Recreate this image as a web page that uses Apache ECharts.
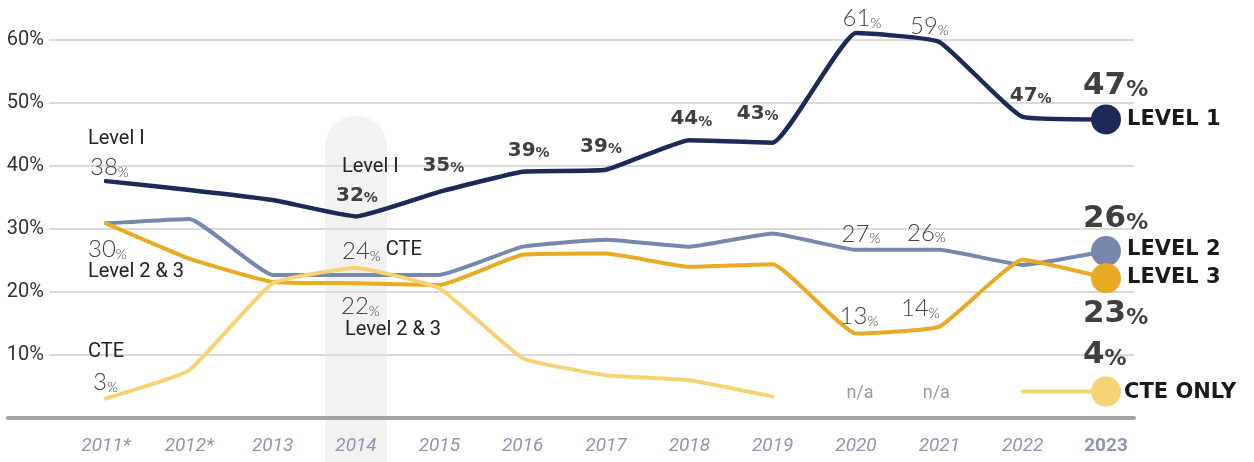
<!DOCTYPE html>
<html>
<head>
<meta charset="utf-8">
<script src="https://cdn.jsdelivr.net/npm/echarts@6/dist/echarts.min.js"></script>
<style>
    html, body { margin: 0; padding: 0; background: #fff; }
    #chart { width: 1254px; height: 462px; }
</style>
</head>
<body>
<div id="chart"></div>
<script>
// categories and values
var years = ['2011*', '2012*', '2013', '2014', '2015', '2016', '2017', '2018', '2019', '2020', '2021', '2022', '2023'];
var level1 = [37.6, 36.2, 34.6, 32.0, 35.9, 39.1, 39.4, 44.1, 43.7, 61.1, 59.7, 47.8, 47.4];
var level2 = [30.9, 31.6, 22.7, 22.7, 22.7, 27.2, 28.3, 27.2, 29.3, 26.7, 26.7, 24.3, 26.5];
var level3 = [30.9, 25.3, 21.6, 21.4, 21.1, 25.9, 26.1, 24.0, 24.4, 13.4, 14.5, 25.1, 22.2];
var cteOnly = [3.1, 7.6, 21.4, 23.8, 20.6, 9.5, 6.8, 6.0, 3.4, null, null, 4.2, 4.2];

// printed labels
var level1Labels = ['38', null, null, '32', '35', '39', '39', '44', '43', '61', '59', '47', '47'];
var level2Labels = ['30', null, null, null, null, null, null, null, null, '27', '26', null, '26'];
var level3Labels = [null, null, null, '22', null, null, null, null, null, '13', '14', null, '23'];
var cteLabels = ['3', null, null, '24', null, null, null, null, null, null, null, null, '4'];
var naLabels = [null, null, null, null, null, null, null, null, null, 'n/a', 'n/a', null, null];
var yTicks = [0, 10, 20, 30, 40, 50, 60];

var NAVY = '#1b2a56', SLATE = '#7788ae', ORANGE = '#e9ab24', YELLOW = '#f6d375';
var COND = 'Roboto';

var RICH = {
    name: { fontFamily: COND, fontSize: 20, color: '#222', lineHeight: 24 },
    thin: { fontFamily: 'Lato', fontWeight: 300, fontSize: 24, color: '#444', lineHeight: 26, verticalAlign: 'bottom' },
    thinP: { fontFamily: 'Lato', fontWeight: 300, fontSize: 14, color: '#444', lineHeight: 26, verticalAlign: 'bottom' },
    heavy: { fontFamily: 'DejaVu Sans', fontWeight: 'bold', fontSize: 20, color: '#3f3f3f', lineHeight: 22, verticalAlign: 'bottom' },
    heavyP: { fontFamily: 'DejaVu Sans', fontWeight: 'bold', fontSize: 14, color: '#3f3f3f', lineHeight: 22, verticalAlign: 'bottom' },
    big: { fontFamily: 'DejaVu Sans', fontWeight: 'bold', fontSize: 31, color: '#3f3f3f', lineHeight: 32, verticalAlign: 'bottom' },
    bigP: { fontFamily: 'DejaVu Sans', fontWeight: 'bold', fontSize: 22, color: '#3f3f3f', lineHeight: 32, verticalAlign: 'bottom' },
    lvl: { fontFamily: 'DejaVu Sans', fontWeight: 'bold', fontSize: 21, color: '#1a1a1a', lineHeight: 24 },
    na: { fontFamily: COND, fontSize: 18, color: '#9b9b9b', lineHeight: 24 }
};

function thin(t) { return '{thin|' + t + '}{thinP|%}'; }
function heavy(t) { return '{heavy|' + t + '}{heavyP|%}'; }
function big(t) { return '{big|' + t + '}{bigP|%}'; }

// one text annotation pinned to a data point
function note(i, v, text, dx, dy, align) {
    return {
        coord: [i, v],
        symbol: 'circle',
        symbolSize: 1,
        itemStyle: { color: 'rgba(0,0,0,0)' },
        label: {
            show: true,
            position: 'inside',
            formatter: text,
            align: align || 'left',
            verticalAlign: 'middle',
            offset: [dx, dy],
            rich: RICH
        }
    };
}

var notes1 = [
    note(0, level1[0], '{name|Level I}', -18, -42),
    note(0, level1[0], thin(level1Labels[0]), -16, -15),
    note(3, level1[3], '{name|Level I}', -14, -49),
    note(3, level1[3], heavy(level1Labels[3]), -20, -22),
    note(4, level1[4], heavy(level1Labels[4]), 4, -27, 'center'),
    note(5, level1[5], heavy(level1Labels[5]), 6, -22, 'center'),
    note(6, level1[6], heavy(level1Labels[6]), -5, -24, 'center'),
    note(7, level1[7], heavy(level1Labels[7]), 2, -22, 'center'),
    note(8, level1[8], heavy(level1Labels[8]), -15, -30, 'center'),
    // anchored on the top gridline, the point itself sits just above the axis range
    note(9, yTicks[yTicks.length - 1], thin(level1Labels[9]), 6, -23, 'center'),
    note(10, level1[10], thin(level1Labels[10]), -10, -17, 'center'),
    note(11, level1[11], heavy(level1Labels[11]), 8, -22, 'center'),
    note(12, level1[12], big(level1Labels[12]), -23, -34),
    note(12, level1[12], '{lvl|LEVEL 1}', 21, 0)
];
var notes2 = [
    note(0, level2[0], thin(level2Labels[0]), -18, 25),
    note(0, level2[0], '{name|Level 2 & 3}', -18, 49),
    note(9, level2[9], thin(level2Labels[9]), 5, -17, 'center'),
    note(10, level2[10], thin(level2Labels[10]), -13, -18, 'center'),
    note(12, level2[12], big(level2Labels[12]), -23, -33),
    note(12, level2[12], '{lvl|LEVEL 2}', 21, -2)
];
var notes3 = [
    note(3, level3[3], thin(level3Labels[3]), -15, 22),
    note(3, level3[3], '{name|Level 2 & 3}', -11, 47),
    note(9, level3[9], thin(level3Labels[9]), 3, -18, 'center'),
    note(10, level3[10], thin(level3Labels[10]), -19, -19, 'center'),
    note(12, level3[12], '{lvl|LEVEL 3}', 21, -1),
    note(12, level3[12], big(level3Labels[12]), -23, 35)
];
var notesCte = [
    note(0, cteOnly[0], '{name|CTE}', -18, -46),
    note(0, cteOnly[0], thin(cteLabels[0]), -13, -17),
    note(3, cteOnly[3], thin(cteLabels[3]) + '{name| CTE}', -14, -18),
    note(9, 0, '{na|' + naLabels[9] + '}', 4, -25, 'center'),
    note(10, 0, '{na|' + naLabels[10] + '}', -3, -25, 'center'),
    note(12, cteOnly[12], big(cteLabels[12]), -23, -37),
    note(12, cteOnly[12], '{lvl|CTE ONLY}', 18, 1)
];

function lineSeries(name, data, color, width, notes, z) {
    return {
        name: name,
        type: 'line',
        xAxisIndex: 2,
        yAxisIndex: 2,
        data: data,
        smooth: 0.12,
        clip: false,
        z: z,
        showSymbol: true,
        symbol: 'circle',
        symbolSize: function (v, p) { return p.dataIndex === years.length - 1 ? 30 : 0; },
        itemStyle: { color: color },
        lineStyle: { color: color, width: width, cap: 'round', join: 'round' },
        emphasis: { disabled: true },
        markPoint: { silent: true, animation: false, data: notes }
    };
}

var chart = echarts.init(document.getElementById('chart'));
var TOP = 40, BOTTOM = 44;

chart.setOption({
    animation: false,
    backgroundColor: '#fff',
    grid: [
        { left: 8, right: 120, top: TOP, bottom: BOTTOM },
        { left: 49, right: 120, top: TOP, bottom: BOTTOM },
        { left: 106, right: 148, top: TOP, bottom: BOTTOM }
    ],
    xAxis: [
        {
            gridIndex: 0, type: 'value', min: 0, max: 1,
            axisLine: { show: true, lineStyle: { color: '#a3a3a3', width: 4 } },
            axisTick: { show: false }, axisLabel: { show: false }, splitLine: { show: false }
        },
        { gridIndex: 1, type: 'value', min: 0, max: 1, show: false },
        {
            gridIndex: 2, type: 'category', data: years, boundaryGap: false,
            axisLine: { show: false }, axisTick: { show: false },
            axisLabel: {
                interval: 0,
                margin: 19,
                fontFamily: COND, fontStyle: 'italic', fontSize: 19, color: '#8e97b2',
                formatter: function (v) { return v === '2023' ? '{b|' + v + '}' : v; },
                rich: { b: { fontFamily: COND, fontStyle: 'normal', fontWeight: 'bold', fontSize: 19, color: '#8e97b2' } }
            }
        }
    ],
    yAxis: [
        { gridIndex: 0, type: 'value', min: 0, max: 60, show: false },
        {
            gridIndex: 1, type: 'value', min: yTicks[0], max: yTicks[yTicks.length - 1], interval: 10,
            axisLine: { show: false }, axisTick: { show: false },
            axisLabel: {
                margin: 5,
                fontFamily: COND, fontSize: 20, color: '#333',
                formatter: function (v) { return v === 0 ? '' : v + '%'; }
            },
            splitLine: { lineStyle: { color: '#dadada', width: 2 } }
        },
        { gridIndex: 2, type: 'value', min: 0, max: 60, show: false }
    ],
    series: [
        lineSeries('Level 2', level2, SLATE, 4, notes2, 3),
        lineSeries('Level 3', level3, ORANGE, 4, notes3, 4),
        lineSeries('CTE only', cteOnly, YELLOW, 4, notesCte, 5),
        lineSeries('Level 1', level1, NAVY, 4.5, notes1, 6)
    ]
});

// rounded highlight behind 2014
var cx = chart.convertToPixel({ xAxisIndex: 2 }, 3);
var top14 = chart.convertToPixel({ yAxisIndex: 2 }, 48);
chart.setOption({
    graphic: [{
        type: 'rect',
        z: -1,
        silent: true,
        shape: { x: cx - 31, y: top14, width: 62, height: 420, r: 31 },
        style: { fill: '#f2f2f0' }
    }]
});
</script>
</body>
</html>
